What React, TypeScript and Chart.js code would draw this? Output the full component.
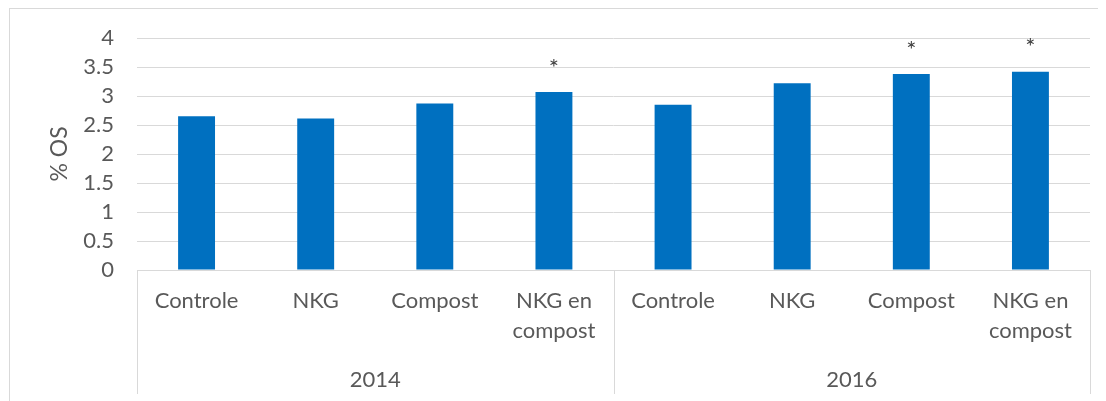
import React, { useEffect, useRef } from "react";
import { Chart, registerables } from "chart.js";

Chart.register(...registerables);

const years = ["2014", "2016"];
const treatments: string[][] = [["Controle"], ["NKG"], ["Compost"], ["NKG en", "compost"]];
const values2014 = [2.65, 2.61, 2.87, 3.07];
const values2016 = [2.85, 3.22, 3.38, 3.42];
const significant2014 = [false, false, false, true];
const significant2016 = [false, false, true, true];
const yMin = 0;
const yMax = 4;
const yStep = 0.5;

const FONT = "Lato, 'Open Sans', sans-serif";
const TEXT = "#595959";
const GRID = "#d9d9d9";
const BAR = "#0070C0";

export default function App() {
  const ref = useRef<HTMLCanvasElement>(null);

  useEffect(() => {
    const canvas = ref.current;
    if (!canvas) return;
    const labels = [...treatments, ...treatments];
    const values = [...values2014, ...values2016];
    const flags = [...significant2014, ...significant2016];

    const groupPlugin = {
      id: "groupAxis",
      afterDraw(chart: any) {
        const { ctx, chartArea, scales } = chart;
        const x = scales.x;
        const y = scales.y;
        const n = treatments.length;
        ctx.save();
        ctx.strokeStyle = GRID;
        ctx.lineWidth = 1;
        for (let g = 0; g <= years.length; g++) {
          const px = Math.round(x.getPixelForValue(g * n - 0.5)) + 0.5;
          ctx.beginPath();
          ctx.moveTo(px, chartArea.bottom);
          ctx.lineTo(px, chart.height - 7);
          ctx.stroke();
        }
        ctx.fillStyle = TEXT;
        ctx.font = `22px ${FONT}`;
        ctx.textAlign = "center";
        ctx.textBaseline = "middle";
        years.forEach((yr, g) => {
          const a = x.getPixelForValue(g * n - 0.5);
          const b = x.getPixelForValue((g + 1) * n - 0.5);
          ctx.fillText(yr, (a + b) / 2, chart.height - 21);
        });
        ctx.fillStyle = "#404040";
        ctx.font = `24px ${FONT}`;
        flags.forEach((f, i) => {
          if (!f) return;
          const px = x.getPixelForValue(i);
          const py = y.getPixelForValue(values[i]);
          ctx.fillText("*", px, py - 24);
        });
        ctx.restore();
      },
    };

    const chart = new Chart(canvas, {
      type: "bar",
      data: {
        labels,
        datasets: [
          {
            data: values,
            backgroundColor: BAR,
            borderWidth: 0,
            categoryPercentage: 1,
            barPercentage: 0.31,
          },
        ],
      },
      options: {
        responsive: false,
        animation: false,
        devicePixelRatio: 1,
        layout: { padding: { top: 29, right: 10, bottom: 0, left: 0 } },
        plugins: {
          legend: { display: false },
          tooltip: { enabled: false },
        },
        scales: {
          x: {
            grid: { display: false },
            border: { display: true, color: GRID, width: 1 },
            ticks: {
              color: TEXT,
              font: { family: FONT, size: 22, lineHeight: 1.36 },
              padding: 8,
              maxRotation: 0,
              autoSkip: false,
            },
            afterFit(scale: any) {
              scale.height = 131;
            },
          },
          y: {
            min: yMin,
            max: yMax,
            grid: {
              color: GRID,
              lineWidth: 1,
              drawTicks: true,
              tickLength: 23,
              tickColor: "rgba(0,0,0,0)",
            },
            border: { display: false },
            ticks: {
              stepSize: yStep,
              autoSkip: false,
              color: TEXT,
              font: { family: FONT, size: 22 },
              padding: 0,
              callback: (v: any) => String(v),
            },
            title: {
              display: true,
              text: "% OS",
              color: TEXT,
              font: { family: FONT, size: 23 },
              padding: { top: 36, bottom: 0 },
            },
            afterFit(scale: any) {
              scale.width = 127;
            },
          },
        },
      },
      plugins: [groupPlugin],
    });
    return () => chart.destroy();
  }, []);

  return (
    <div
      style={{
        marginLeft: 1,
        width: 1092,
        height: 400,
        border: `1px solid ${GRID}`,
        boxSizing: "border-box",
        overflow: "hidden",
      }}
    >
      <canvas ref={ref} width={1090} height={392} style={{ display: "block" }} />
    </div>
  );
}
